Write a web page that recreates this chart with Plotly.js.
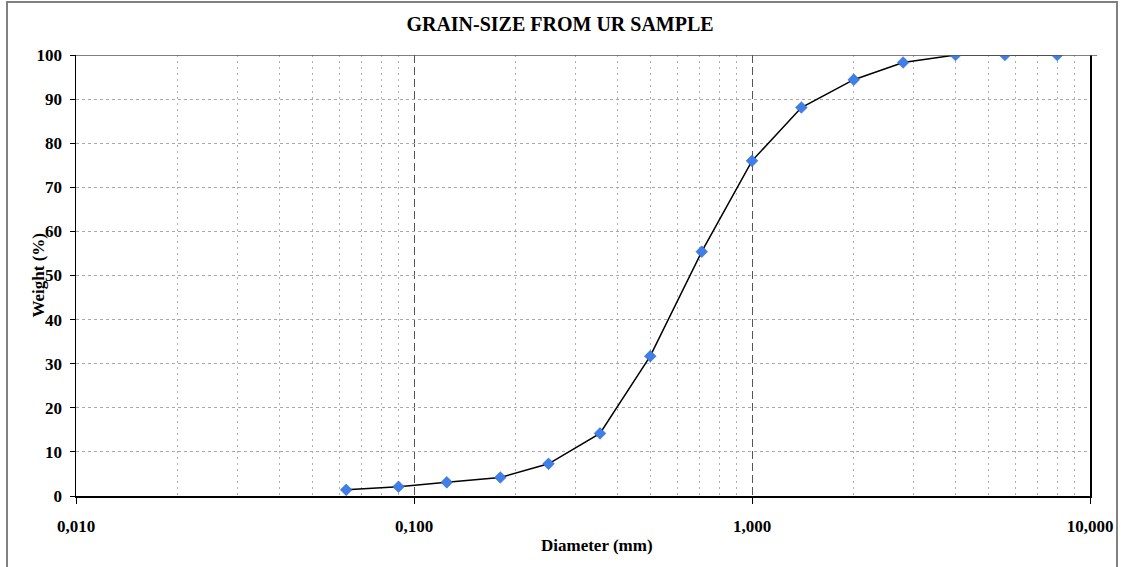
<!DOCTYPE html>
<html>
<head>
<meta charset="utf-8">
<script src="https://cdn.plot.ly/plotly-3.0.1.min.js"></script>
<style>html,body{margin:0;padding:0;background:#fff;}#chart{width:1121px;height:567px;}</style>
</head>
<body>
<div id="chart"></div>
<script>
const diameters = [0.063, 0.09, 0.125, 0.18, 0.25, 0.355, 0.5, 0.71, 1.0, 1.4, 2.0, 2.8, 4.0, 5.6, 8.0];
const weights = [1.4, 2.1, 3.1, 4.2, 7.3, 14.2, 31.7, 55.4, 76.0, 88.1, 94.4, 98.3, 100, 100, 100];
const chartTitle = 'GRAIN-SIZE FROM UR SAMPLE';
const xTitle = 'Diameter (mm)';
const yTitle = 'Weight (%)';

const FONT = '"Liberation Serif", "DejaVu Serif", serif';

const trace = {
  x: diameters, y: weights, type: 'scatter', mode: 'lines+markers',
  line: {color: '#000000', width: 1.5},
  marker: {symbol: 'diamond', size: 9, color: '#3F7FEA', line: {color: '#2A5BB0', width: 0.5}},
  hoverinfo: 'x+y', showlegend: false
};

const layout = {
  width: 1121, height: 567,
  margin: {l: 76, r: 31, t: 55, b: 71},
  paper_bgcolor: '#ffffff', plot_bgcolor: '#ffffff',
  separators: ',.',
  font: {family: FONT, size: 17, color: '#000000'},
  title: {text: '<b>' + chartTitle + '</b>', font: {family: FONT, size: 20, color: '#000'},
          x: 560/1121, xref: 'container', xanchor: 'center', y: 1 - 24/567, yref: 'container', yanchor: 'middle'},
  xaxis: {
    type: 'log', range: [-2, 1], dtick: 1, tickformat: '.3f',
    showgrid: true, gridcolor: '#555555', griddash: '8px,4px', gridwidth: 1,
    showline: true, linecolor: '#000000', linewidth: 1.5,
    ticks: 'outside', ticklen: 6, tickcolor: '#000000', tickwidth: 1,
    tickfont: {family: FONT, size: 17, color: '#000', weight: 'bold'},
    ticklabelstandoff: 8,
    minor: {dtick: 'D1', showgrid: true, gridcolor: '#b0b0b0', griddash: '2px,4px', gridwidth: 1, ticks: ''},
    zeroline: false, fixedrange: true
  },
  yaxis: {
    range: [0, 100], dtick: 10,
    showgrid: true, gridcolor: '#a8a8a8', griddash: '3px,3px', gridwidth: 1,
    showline: true, linecolor: '#000000', linewidth: 1.5, mirror: true,
    ticks: 'outside', ticklen: 5, tickcolor: '#000000', tickwidth: 1,
    tickfont: {family: FONT, size: 17, color: '#000', weight: 'bold'},
    ticklabelstandoff: 4,
    zeroline: false, fixedrange: true
  },
  shapes: [
    {type: 'line', xref: 'paper', yref: 'y', x0: 0, x1: 1.007, y0: 100, y1: 100,
     line: {color: '#555555', width: 1.5}},
    {type: 'rect', xref: 'paper', yref: 'paper', x0: (7-76)/1014, x1: (1117-76)/1014,
     y0: (496-575)/441, y1: (496-2)/441, line: {color: '#808080', width: 2}, layer: 'below'}
  ],
  annotations: [
    {text: '<b>' + xTitle + '</b>', xref: 'paper', yref: 'paper', x: (597-76)/1014, y: (496-545)/441,
     xanchor: 'center', yanchor: 'middle', showarrow: false, font: {family: FONT, size: 17, color: '#000'}},
    {text: '<b>' + yTitle + '</b>', xref: 'paper', yref: 'paper', x: (38-76)/1014, y: 0.5,
     xanchor: 'center', yanchor: 'middle', textangle: -90, showarrow: false,
     font: {family: FONT, size: 17, color: '#000'}}
  ]
};

Plotly.newPlot('chart', [trace], layout, {displayModeBar: false, staticPlot: true});
</script>
</body>
</html>
